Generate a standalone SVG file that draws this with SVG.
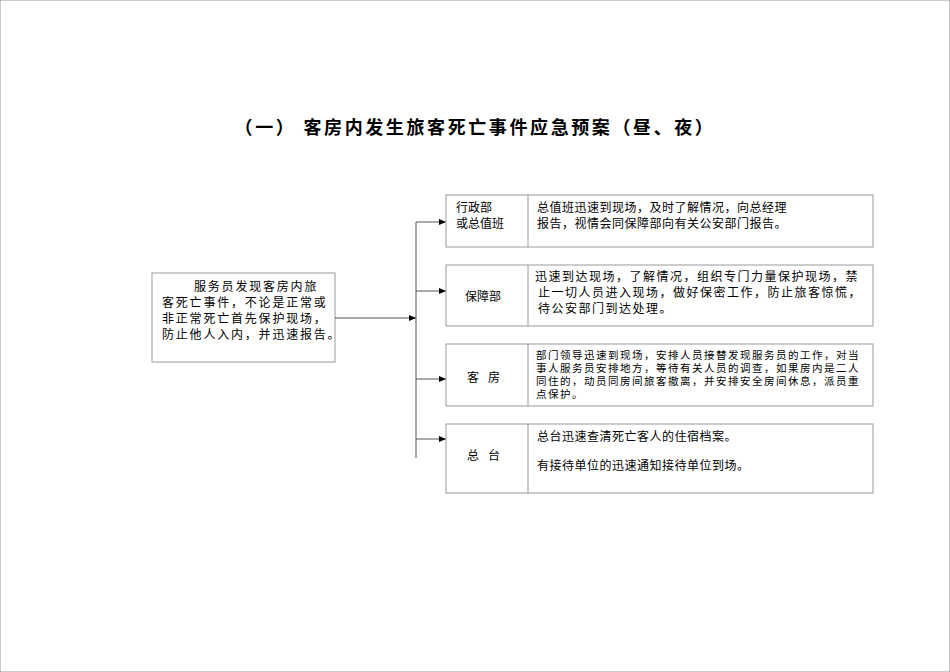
<svg xmlns="http://www.w3.org/2000/svg" width="950" height="672" viewBox="0 0 950 672">
<defs><marker id="ar" markerWidth="8" markerHeight="8" refX="7" refY="4" orient="auto" markerUnits="userSpaceOnUse"><path d="M0,1 L7,4 L0,7 Z" fill="#000"/></marker></defs>
<style>
rect{fill:#fff;stroke:#999;stroke-width:1}
.d{stroke:#999;stroke-width:1}
text{font-family:"Liberation Serif","Noto Sans CJK SC",serif;fill:#000}
.t{font-size:12px}.s{font-size:10.5px;letter-spacing:1.5px}
.c line{stroke:#555;stroke-width:1}
</style>
<rect width="950" height="672" fill="#fff" stroke="none"/>
<text x="475" y="134" text-anchor="middle" font-size="18" font-weight="bold" letter-spacing="2.6">（一）  客房内发生旅客死亡事件应急预案（昼、夜）</text>
<g id="start"><rect x="152" y="273" width="183" height="89"/>
<text class="t" letter-spacing="1.8"><tspan x="194" y="291">服务员发现客房内旅</tspan><tspan x="162" y="307">客死亡事件，不论是正常或</tspan><tspan x="162" y="323">非正常死亡首先保护现场，</tspan><tspan x="162" y="339">防止他人入内，并迅速报告。</tspan></text></g>
<g class="c"><line x1="335" y1="318" x2="416" y2="318" marker-end="url(#ar)"/><line x1="416" y1="222" x2="416" y2="458"/>
<line x1="416" y1="222" x2="446" y2="222" marker-end="url(#ar)"/><line x1="416" y1="291" x2="446" y2="291" marker-end="url(#ar)"/><line x1="416" y1="379" x2="446" y2="379" marker-end="url(#ar)"/><line x1="416" y1="439" x2="446" y2="439" marker-end="url(#ar)"/></g>
<g id="n1"><rect x="446" y="195" width="427" height="52"/><line class="d" x1="528" y1="195" x2="528" y2="247"/>
<text class="t"><tspan x="456" y="212">行政部</tspan><tspan x="456" y="228">或总值班</tspan></text>
<text class="t" letter-spacing="0.5"><tspan x="537" y="212">总值班迅速到现场，及时了解情况，向总经理</tspan><tspan x="537" y="228">报告，视情会同保障部向有关公安部门报告。</tspan></text></g>
<g id="n2"><rect x="446" y="265" width="427" height="61"/><line class="d" x1="528" y1="265" x2="528" y2="326"/>
<text class="t" x="465" y="301">保障部</text>
<text class="t" letter-spacing="1.5"><tspan x="535" y="281">迅速到达现场，了解情况，组织专门力量保护现场，禁</tspan><tspan x="538" y="297">止一切人员进入现场，做好保密工作，防止旅客惊慌，</tspan><tspan x="538" y="313">待公安部门到达处理。</tspan></text></g>
<g id="n3"><rect x="446" y="344" width="427" height="62"/><line class="d" x1="528" y1="344" x2="528" y2="406"/>
<text class="t" x="467" y="382" xml:space="preserve">客   房</text>
<text class="s"><tspan x="536" y="359">部门领导迅速到现场，安排人员接替发现服务员的工作，对当</tspan><tspan x="536" y="372">事人服务员安排地方，等待有关人员的调查，如果房内是二人</tspan><tspan x="536" y="385">同住的，动员同房间旅客撤离，并安排安全房间休息，派员重</tspan><tspan x="536" y="398">点保护。</tspan></text></g>
<g id="n4"><rect x="446" y="424" width="427" height="69"/><line class="d" x1="528" y1="424" x2="528" y2="493"/>
<text class="t" x="467" y="460" xml:space="preserve">总   台</text>
<text class="t" letter-spacing="0.5"><tspan x="537" y="441">总台迅速查清死亡客人的住宿档案。</tspan><tspan x="537" y="470">有接待单位的迅速通知接待单位到场。</tspan></text></g>
</svg>
